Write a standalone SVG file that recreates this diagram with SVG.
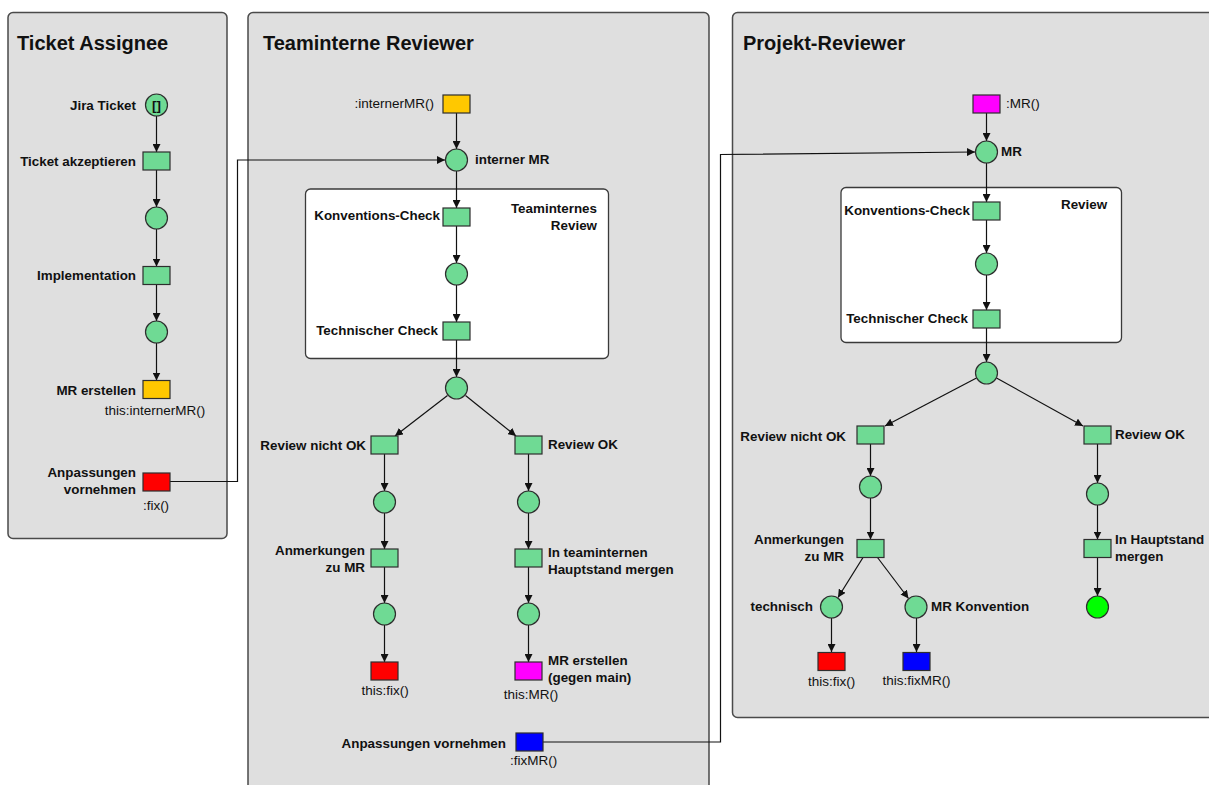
<svg xmlns="http://www.w3.org/2000/svg" width="1209" height="785" viewBox="0 0 1209 785">
  <style>
    .lane { fill: #dfdfdf; stroke: #4a4a4a; stroke-width: 1.5; }
    .box { fill: #ffffff; stroke: #3a3a3a; stroke-width: 1.3; }
    .title { font-family: "Liberation Sans", Arial, sans-serif; font-size: 20px; font-weight: bold; fill: #111; }
    .lbl { font-family: "Liberation Sans", Arial, sans-serif; font-size: 13.4px; font-weight: bold; fill: #111; }
    .fn { font-family: "Liberation Sans", Arial, sans-serif; font-size: 13.5px; fill: #111; }
    .end { text-anchor: end; }
    .mid { text-anchor: middle; }
    .place { fill: #6fda94; stroke: #2e2e2e; stroke-width: 1.2; }
    .trans { fill: #6fda94; stroke: #2e2e2e; stroke-width: 1.2; }
    .yellow { fill: #ffc800; }
    .red { fill: #ff0000; }
    .magenta { fill: #ff00ff; }
    .blue { fill: #0000ff; }
    .final { fill: #00ff00; }
    .arc { fill: none; stroke: #111; stroke-width: 1.2; marker-end: url(#head); }
  </style>
  <defs>
    <marker id="head" markerUnits="userSpaceOnUse" viewBox="0 0 8 8" refX="8" refY="4" markerWidth="8" markerHeight="8" orient="auto">
      <path d="M0,0 L8,4 L0,8 z" fill="#111"/>
    </marker>
  </defs>

  <rect x="0" y="0" width="1209" height="785" fill="#ffffff"/>

  <!-- swimlanes -->
  <g id="lanes">
    <rect class="lane" x="8" y="12.5" width="219" height="526" rx="5"/>
    <rect class="lane" x="248" y="12.5" width="461" height="800" rx="5"/>
    <rect class="lane" x="732.5" y="12.5" width="500" height="705" rx="5"/>
    <text class="title" x="17" y="50">Ticket Assignee</text>
    <text class="title" x="263" y="50">Teaminterne Reviewer</text>
    <text class="title" x="743" y="50">Projekt-Reviewer</text>
  </g>

  <!-- review sub-boxes -->
  <g id="box-team-review">
    <rect class="box" x="305.5" y="189" width="303" height="169.5" rx="5"/>
    <text class="lbl end" x="597" y="213">Teaminternes</text>
    <text class="lbl end" x="597" y="230">Review</text>
  </g>
  <g id="box-project-review">
    <rect class="box" x="841" y="187.5" width="280.5" height="155" rx="5"/>
    <text class="lbl" x="1061" y="209">Review</text>
  </g>

  <!-- connectors -->
  <g id="connectors">
    <!-- Ticket Assignee -->
    <line class="arc" x1="156.5" y1="116" x2="156.5" y2="152"/>
    <line class="arc" x1="156.5" y1="170" x2="156.5" y2="207"/>
    <line class="arc" x1="156.5" y1="229" x2="156.5" y2="266.5"/>
    <line class="arc" x1="156.5" y1="284.5" x2="156.5" y2="321"/>
    <line class="arc" x1="156.5" y1="343" x2="156.5" y2="380.5"/>
    <polyline class="arc" points="170,481.5 237.5,481.5 237.5,160 445,160"/>

    <!-- Teaminterne Reviewer -->
    <line class="arc" x1="456.5" y1="113" x2="456.5" y2="149"/>
    <line class="arc" x1="456.5" y1="171" x2="456.5" y2="208"/>
    <line class="arc" x1="456.5" y1="226" x2="456.5" y2="263"/>
    <line class="arc" x1="456.5" y1="285" x2="456.5" y2="322"/>
    <line class="arc" x1="456.5" y1="340" x2="456.5" y2="377"/>
    <line class="arc" x1="447.5" y1="395.5" x2="395" y2="436"/>
    <line class="arc" x1="465.5" y1="395.5" x2="516" y2="436"/>
    <line class="arc" x1="384.5" y1="454" x2="384.5" y2="491"/>
    <line class="arc" x1="528.5" y1="454" x2="528.5" y2="491"/>
    <line class="arc" x1="384.5" y1="513" x2="384.5" y2="549"/>
    <line class="arc" x1="528.5" y1="513" x2="528.5" y2="549"/>
    <line class="arc" x1="384.5" y1="567" x2="384.5" y2="603"/>
    <line class="arc" x1="528.5" y1="567" x2="528.5" y2="603"/>
    <line class="arc" x1="384.5" y1="625" x2="384.5" y2="662"/>
    <line class="arc" x1="528.5" y1="625" x2="528.5" y2="662"/>
    <polyline class="arc" points="543,742 720.5,742 720.5,154.5 975,152"/>

    <!-- Projekt-Reviewer -->
    <line class="arc" x1="986.5" y1="113" x2="986.5" y2="141"/>
    <line class="arc" x1="986.5" y1="163" x2="986.5" y2="202"/>
    <line class="arc" x1="986.5" y1="220" x2="986.5" y2="253"/>
    <line class="arc" x1="986.5" y1="275" x2="986.5" y2="310"/>
    <line class="arc" x1="986.5" y1="328" x2="986.5" y2="362"/>
    <line class="arc" x1="976.5" y1="378" x2="885" y2="426"/>
    <line class="arc" x1="996.5" y1="378" x2="1083" y2="426"/>
    <line class="arc" x1="870.5" y1="444" x2="870.5" y2="476"/>
    <line class="arc" x1="1097.5" y1="444" x2="1097.5" y2="483"/>
    <line class="arc" x1="870.5" y1="498" x2="870.5" y2="539.5"/>
    <line class="arc" x1="1097.5" y1="505" x2="1097.5" y2="539.5"/>
    <line class="arc" x1="863" y1="557.5" x2="838" y2="597.5"/>
    <line class="arc" x1="877.5" y1="557.5" x2="908.5" y2="598.5"/>
    <line class="arc" x1="1097.5" y1="557.5" x2="1097.5" y2="596"/>
    <line class="arc" x1="831.5" y1="618" x2="831.5" y2="652"/>
    <line class="arc" x1="916.5" y1="618" x2="916.5" y2="652"/>
  </g>

  <!-- Ticket Assignee nodes -->
  <g id="p-jira-ticket">
    <circle class="place" cx="156.5" cy="105" r="11"/>
    <text class="lbl mid" x="156.5" y="109.5" font-size="12">[]</text>
    <text class="lbl end" x="136" y="110">Jira Ticket</text>
  </g>
  <g id="t-ticket-akzeptieren">
    <rect class="trans" x="143" y="152" width="27" height="18"/>
    <text class="lbl end" x="136" y="166">Ticket akzeptieren</text>
  </g>
  <g id="p-a1"><circle class="place" cx="156.5" cy="218" r="11"/></g>
  <g id="t-implementation">
    <rect class="trans" x="143" y="266.5" width="27" height="18"/>
    <text class="lbl end" x="136" y="280">Implementation</text>
  </g>
  <g id="p-a2"><circle class="place" cx="156.5" cy="332" r="11"/></g>
  <g id="t-mr-erstellen">
    <rect class="trans yellow" x="143" y="380.5" width="27" height="18"/>
    <text class="lbl end" x="136" y="395">MR erstellen</text>
    <text class="fn mid" x="155" y="415">this:internerMR()</text>
  </g>
  <g id="t-fix">
    <rect class="trans red" x="143" y="473" width="27" height="18"/>
    <text class="lbl end" x="136" y="477">Anpassungen</text>
    <text class="lbl end" x="136" y="494">vornehmen</text>
    <text class="fn mid" x="156" y="510">:fix()</text>
  </g>

  <!-- Teaminterne Reviewer nodes -->
  <g id="t-interner-mr-in">
    <rect class="trans yellow" x="443" y="95" width="27" height="18"/>
    <text class="fn end" x="434" y="108">:internerMR()</text>
  </g>
  <g id="p-interner-mr">
    <circle class="place" cx="456.5" cy="160" r="11"/>
    <text class="lbl" x="475" y="164">interner MR</text>
  </g>
  <g id="t-team-konventions-check">
    <rect class="trans" x="443" y="208" width="27" height="18"/>
    <text class="lbl end" x="440" y="220">Konventions-Check</text>
  </g>
  <g id="p-b1"><circle class="place" cx="456.5" cy="274" r="11"/></g>
  <g id="t-team-technischer-check">
    <rect class="trans" x="443" y="322" width="27" height="18"/>
    <text class="lbl end" x="438" y="335">Technischer Check</text>
  </g>
  <g id="p-b2"><circle class="place" cx="456.5" cy="388" r="11"/></g>
  <g id="t-team-review-nok">
    <rect class="trans" x="371" y="436" width="27" height="18"/>
    <text class="lbl end" x="366" y="450">Review nicht OK</text>
  </g>
  <g id="t-team-review-ok">
    <rect class="trans" x="515" y="436" width="27" height="18"/>
    <text class="lbl" x="548" y="449">Review OK</text>
  </g>
  <g id="p-b3"><circle class="place" cx="384.5" cy="502" r="11"/></g>
  <g id="p-b4"><circle class="place" cx="528.5" cy="502" r="11"/></g>
  <g id="t-team-anmerkungen">
    <rect class="trans" x="371" y="549" width="27" height="18"/>
    <text class="lbl end" x="365" y="555">Anmerkungen</text>
    <text class="lbl end" x="365" y="572">zu MR</text>
  </g>
  <g id="t-team-merge">
    <rect class="trans" x="515" y="549" width="27" height="18"/>
    <text class="lbl" x="548" y="557">In teaminternen</text>
    <text class="lbl" x="548" y="574">Hauptstand mergen</text>
  </g>
  <g id="p-b5"><circle class="place" cx="384.5" cy="614" r="11"/></g>
  <g id="p-b6"><circle class="place" cx="528.5" cy="614" r="11"/></g>
  <g id="t-team-fix-out">
    <rect class="trans red" x="371" y="662" width="27" height="18"/>
    <text class="fn mid" x="385" y="695">this:fix()</text>
  </g>
  <g id="t-team-mr-out">
    <rect class="trans magenta" x="515" y="662" width="27" height="18"/>
    <text class="lbl" x="548" y="665">MR erstellen</text>
    <text class="lbl" x="548" y="682">(gegen main)</text>
    <text class="fn mid" x="531" y="699">this:MR()</text>
  </g>
  <g id="t-team-fixmr-in">
    <rect class="trans blue" x="516" y="733" width="27" height="18"/>
    <text class="lbl end" x="506" y="748">Anpassungen vornehmen</text>
    <text class="fn" x="510" y="765">:fixMR()</text>
  </g>

  <!-- Projekt-Reviewer nodes -->
  <g id="t-mr-in">
    <rect class="trans magenta" x="973" y="95" width="27" height="18"/>
    <text class="fn" x="1006" y="108">:MR()</text>
  </g>
  <g id="p-mr">
    <circle class="place" cx="986.5" cy="152" r="11"/>
    <text class="lbl" x="1001" y="156">MR</text>
  </g>
  <g id="t-proj-konventions-check">
    <rect class="trans" x="973" y="202" width="27" height="18"/>
    <text class="lbl end" x="970" y="215">Konventions-Check</text>
  </g>
  <g id="p-c1"><circle class="place" cx="986.5" cy="264" r="11"/></g>
  <g id="t-proj-technischer-check">
    <rect class="trans" x="973" y="310" width="27" height="18"/>
    <text class="lbl end" x="968" y="323">Technischer Check</text>
  </g>
  <g id="p-c2"><circle class="place" cx="986.5" cy="373" r="11"/></g>
  <g id="t-proj-review-nok">
    <rect class="trans" x="857" y="426" width="27" height="18"/>
    <text class="lbl end" x="846" y="441">Review nicht OK</text>
  </g>
  <g id="t-proj-review-ok">
    <rect class="trans" x="1084" y="426" width="27" height="18"/>
    <text class="lbl" x="1115" y="439">Review OK</text>
  </g>
  <g id="p-c3"><circle class="place" cx="870.5" cy="487" r="11"/></g>
  <g id="p-c4"><circle class="place" cx="1097.5" cy="494" r="11"/></g>
  <g id="t-proj-anmerkungen">
    <rect class="trans" x="857" y="539.5" width="27" height="18"/>
    <text class="lbl end" x="844" y="544">Anmerkungen</text>
    <text class="lbl end" x="844" y="561">zu MR</text>
  </g>
  <g id="t-proj-merge">
    <rect class="trans" x="1084" y="539.5" width="27" height="18"/>
    <text class="lbl" x="1115" y="544">In Hauptstand</text>
    <text class="lbl" x="1115" y="561">mergen</text>
  </g>
  <g id="p-technisch">
    <circle class="place" cx="831.5" cy="607" r="11"/>
    <text class="lbl end" x="813" y="611">technisch</text>
  </g>
  <g id="p-mr-konvention">
    <circle class="place" cx="916" cy="607" r="11"/>
    <text class="lbl" x="931" y="611">MR Konvention</text>
  </g>
  <g id="p-merged">
    <circle class="place final" cx="1097.5" cy="607" r="11"/>
  </g>
  <g id="t-proj-fix-out">
    <rect class="trans red" x="818" y="652.5" width="27" height="18"/>
    <text class="fn mid" x="831.5" y="686">this:fix()</text>
  </g>
  <g id="t-proj-fixmr-out">
    <rect class="trans blue" x="903" y="652.5" width="27" height="18"/>
    <text class="fn mid" x="916.5" y="685">this:fixMR()</text>
  </g>
</svg>
